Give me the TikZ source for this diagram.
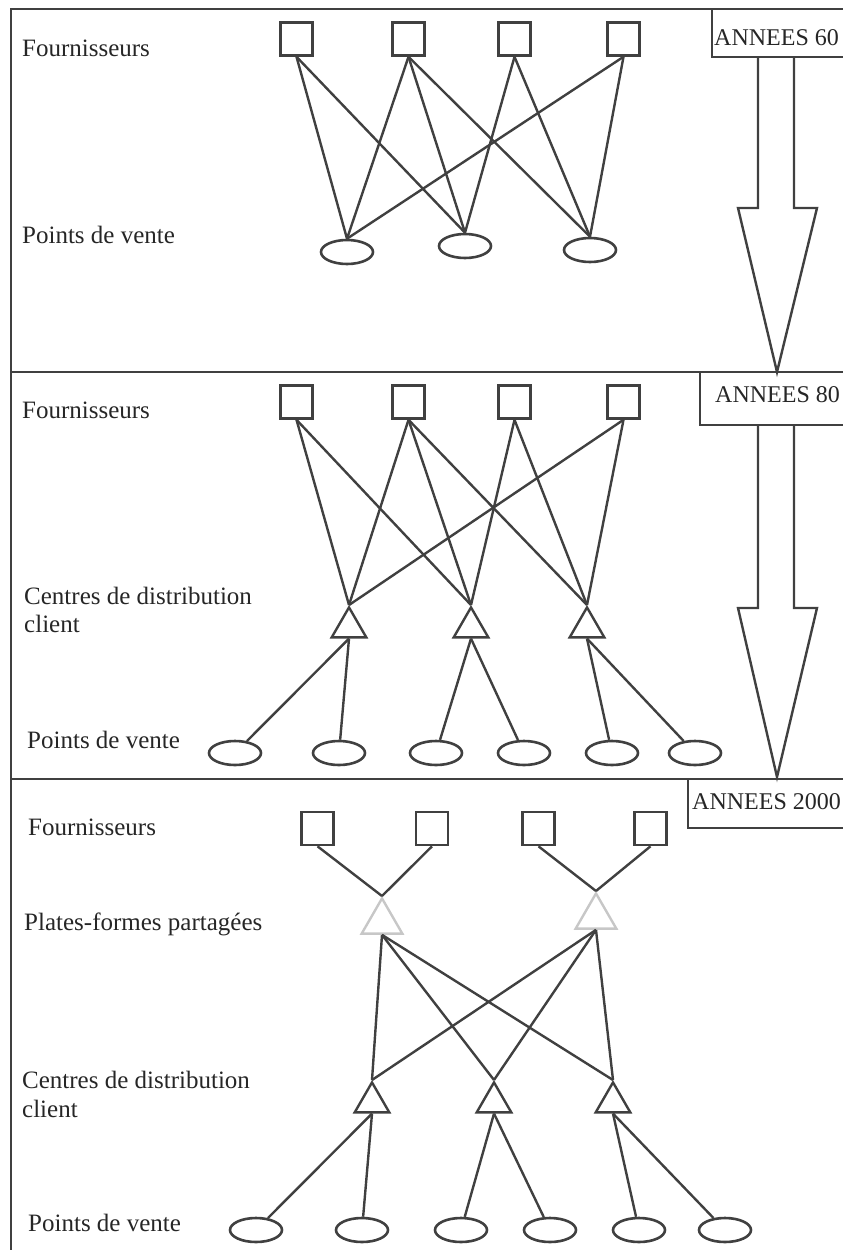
\documentclass[tikz,border=0pt]{standalone}
\usepackage{fontspec}
\setmainfont{Liberation Serif}
\usetikzlibrary{shapes.geometric}
\begin{document}
\begin{tikzpicture}[x=1pt,y=-1pt,
  ln/.style={draw=black!75,line width=2.4pt},
  sup/.style={rectangle,draw=black!75,fill=white,line width=2.6pt,minimum width=32pt,minimum height=33pt,inner sep=0pt},
  pv/.style={ellipse,draw=black!75,fill=white,line width=2.6pt,minimum width=52pt,minimum height=24pt,inner sep=0pt},
  cd/.style={regular polygon,regular polygon sides=3,draw=black!75,line width=2.4pt,minimum size=40pt,inner sep=0pt,anchor=north},
  pf/.style={regular polygon,regular polygon sides=3,draw=black!22,line width=2.4pt,minimum size=47pt,inner sep=0pt,anchor=north},
  lbl/.style={anchor=base west,inner sep=0pt,font=\fontsize{25}{29}\selectfont,text=black!85},
  yr/.style={anchor=base west,inner sep=0pt,font=\fontsize{24}{28}\selectfont,text=black!85},
  frm/.style={draw=black!75,line width=2.8pt},
  arr/.style={draw=black!75,line width=2.4pt,fill=white,line join=miter},
]
\useasboundingbox (0,0) rectangle (843,1250);
\clip (0,0) rectangle (843,1250);

% ---------- arrows ----------
\draw[arr] (758,57) -- (758,208) -- (738,208) -- (777,372) -- (817,208) -- (794,208) -- (794,57);
\draw[arr] (758,425) -- (758,608) -- (738,608) -- (777,777) -- (817,608) -- (794,608) -- (794,425);

% ---------- frame ----------
\draw[frm] (11,1260) -- (11,9) -- (860,9);
\draw[frm] (11,372) -- (860,372);
\draw[frm] (11,779) -- (860,779);

% ---------- year boxes ----------
\draw[frm] (712,9) -- (712,57) -- (860,57);
\node[yr] (y1) at (714,45) {ANNEES 60};
\draw[frm] (700,372) -- (700,425) -- (860,425);
\node[yr] (y2) at (715,402) {ANNEES 80};
\draw[frm] (688,779) -- (688,828) -- (860,828);
\node[yr] (y3) at (692,809) {ANNEES 2000};

% ---------- panel 1 ----------
\node[lbl] (l1f) at (22,56) {Fournisseurs};
\node[lbl] (l1p) at (22,243) {Points de vente};
\node[sup] (a1) at (296.5,39) {};
\node[sup] (a2) at (408.5,39) {};
\node[sup] (a3) at (514.5,39) {};
\node[sup] (a4) at (623.5,39) {};
\node[pv] (ae1) at (347,252) {};
\node[pv] (ae2) at (465,246) {};
\node[pv] (ae3) at (590,250) {};
\foreach \s/\e in {a1/ae1,a1/ae2,a2/ae1,a2/ae2,a2/ae3,a3/ae2,a3/ae3,a4/ae1,a4/ae3}
  \draw[ln] (\s.south) -- (\e.north);

% ---------- panel 2 ----------
\node[lbl] (l2f) at (22,418) {Fournisseurs};
\node[lbl] (l2c) at (24,604) {Centres de distribution};
\node[lbl] (l2c2) at (24,632) {client};
\node[lbl] (l2p) at (27,748) {Points de vente};
\node[sup] (b1) at (296.5,402) {};
\node[sup] (b2) at (408.5,402) {};
\node[sup] (b3) at (514.5,402) {};
\node[sup] (b4) at (623.5,402) {};
\node[cd] (bc1) at (349,605) {};
\node[cd] (bc2) at (471,605) {};
\node[cd] (bc3) at (587,605) {};
\node[pv] (be1) at (235,753) {};
\node[pv] (be2) at (339,753) {};
\node[pv] (be3) at (436,753) {};
\node[pv] (be4) at (524,753) {};
\node[pv] (be5) at (612,753) {};
\node[pv] (be6) at (695,753) {};
\foreach \s/\e in {b1/bc1,b1/bc2,b2/bc1,b2/bc2,b2/bc3,b3/bc2,b3/bc3,b4/bc1,b4/bc3}
  \draw[ln] (\s.south) -- (\e.north);
\foreach \s/\e in {bc1/be1,bc1/be2,bc2/be3,bc2/be4,bc3/be5,bc3/be6}
  \draw[ln] (\s.south) -- (\e);

% ---------- panel 3 ----------
\node[lbl] (l3f) at (28,835) {Fournisseurs};
\node[lbl] (l3pf) at (24,930) {Plates-formes partagées};
\node[lbl] (l3c) at (22,1088) {Centres de distribution};
\node[lbl] (l3c2) at (22,1117) {client};
\node[lbl] (l3p) at (28,1231) {Points de vente};
\node[sup] (c1) at (317.5,828.5) {};
\node[sup] (c2) at (432,828.5) {};
\node[sup] (c3) at (538.5,828.5) {};
\node[sup] (c4) at (650.5,828.5) {};
\node[pf] (p1) at (382,896) {};
\node[pf] (p2) at (596,891) {};
\node[cd] (cc1) at (372,1080) {};
\node[cd] (cc2) at (494,1080) {};
\node[cd] (cc3) at (613,1080) {};
\node[pv] (ce1) at (256,1230) {};
\node[pv] (ce2) at (362,1230) {};
\node[pv] (ce3) at (461,1230) {};
\node[pv] (ce4) at (550,1230) {};
\node[pv] (ce5) at (639,1230) {};
\node[pv] (ce6) at (725,1230) {};
\foreach \s/\e in {c1/p1,c2/p1,c3/p2,c4/p2}
  \draw[ln] (\s.south) -- (\e.north);
\foreach \s/\e in {p1/cc1,p1/cc2,p1/cc3,p2/cc1,p2/cc2,p2/cc3}
  \draw[ln] (\s.south) -- (\e.north);
\foreach \s/\e in {cc1/ce1,cc1/ce2,cc2/ce3,cc2/ce4,cc3/ce5,cc3/ce6}
  \draw[ln] (\s.south) -- (\e);
\end{tikzpicture}
\end{document}
